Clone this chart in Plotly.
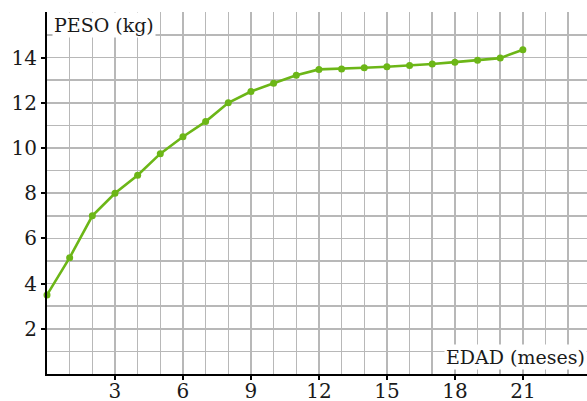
import plotly.graph_objects as go

edad = list(range(0, 22))
peso = [3.5, 5.15, 7.0, 8.0, 8.8, 9.75, 10.5, 11.17, 12.0, 12.5, 12.87, 13.22,
        13.48, 13.5, 13.55, 13.6, 13.65, 13.72, 13.8, 13.88, 13.98, 14.35]
x_ticks = [3, 6, 9, 12, 15, 18, 21]
y_ticks = [2, 4, 6, 8, 10, 12, 14]

GREEN = "#6cb617"
GRID = "#b8b8b8"
FONT = "DejaVu Serif"

fig = go.Figure()
fig.add_trace(go.Scatter(
    x=edad, y=peso, mode="lines+markers",
    line=dict(color=GREEN, width=2.6),
    marker=dict(color=GREEN, size=7),
    cliponaxis=False, showlegend=False, hoverinfo="skip",
))

axis_common = dict(
    showgrid=True, gridcolor=GRID, gridwidth=1.5,
    showline=True, linecolor="black", linewidth=2,
    ticks="outside", ticklen=4, tickwidth=2, tickcolor="black",
    zeroline=False, automargin=False,
    tickfont=dict(family=FONT, size=20, color="#1a1a1a"),
)

fig.update_layout(
    width=587, height=401,
    margin=dict(l=47, r=0, t=12, b=27),
    plot_bgcolor="white", paper_bgcolor="white",
    font=dict(family=FONT, size=19, color="#1a1a1a"),
    xaxis=dict(
        range=[0, 23.83], tickvals=x_ticks, ticktext=[str(v) for v in x_ticks],
        minor=dict(dtick=1, tick0=0, showgrid=True, gridcolor=GRID, gridwidth=1.5),
        ticklabelstandoff=-6,
        **axis_common,
    ),
    yaxis=dict(
        range=[0, 16.02], tickvals=y_ticks, ticktext=[str(v) for v in y_ticks],
        minor=dict(dtick=1, tick0=0, showgrid=True, gridcolor=GRID, gridwidth=1.5),
        **axis_common,
    ),
    annotations=[
        dict(text="PESO (kg)", x=0.01, y=1.0, xref="paper", yref="paper",
             xanchor="left", yanchor="top", showarrow=False, borderpad=1,
             bgcolor="white", font=dict(family=FONT, size=19)),
        dict(text="EDAD (meses)", x=1.0, y=0.0, xref="paper", yref="paper",
             xanchor="right", yanchor="bottom", showarrow=False, yshift=4,
             borderpad=1, bgcolor="white", font=dict(family=FONT, size=19)),
    ],
)

fig.write_html("out.html", config={"displayModeBar": False, "staticPlot": True},
               post_script="document.body.style.margin='0';document.body.style.overflow='hidden';")
